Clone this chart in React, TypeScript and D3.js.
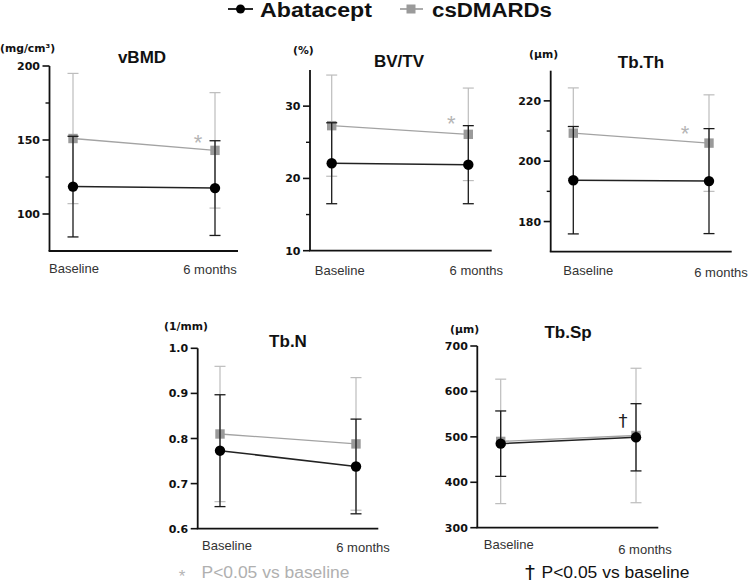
import React from "react";
import * as d3 from "d3";

const timepoints = ["Baseline", "6 months"];
const panelTitles = ["vBMD", "BV/TV", "Tb.Th", "Tb.N", "Tb.Sp"];
const panelUnits = ["(mg/cm³)", "(%)", "(µm)", "(1/mm)", "(µm)"];
const seriesNames = ["Abatacept", "csDMARDs"];

const abataceptMean = [[118.5, 117.5], [22.1, 21.9], [193.7, 193.4], [0.773, 0.738], [485, 499]];
const abataceptSD = [[34, 32], [5.6, 5.4], [17.8, 17.4], [0.124, 0.105], [72, 74]];
const csdmardsMean = [[151, 143], [27.3, 26.1], [209.3, 206], [0.81, 0.788], [490, 503]];
const csdmardsSD = [[44, 39], [7.0, 6.4], [15, 16], [0.15, 0.147], [137, 148]];

const yDomains = [[75, 200], [10, 35], [170, 230], [0.6, 1.0], [300, 700]];
const majorTicks = [[100, 150, 200], [10, 20, 30], [180, 200, 220], [0.6, 0.7, 0.8, 0.9, 1.0], [300, 400, 500, 600, 700]];
const minorTicks = [[125, 175], [15, 25], [190, 210], [], []];
const tickFormats = ["d", "d", "d", ".1f", "d"];
const asteriskPanels = [0, 1, 2];
const daggerPanels = [4];

// layout (pixel geometry)
const layout = [
  { ax: 49.5, top: 66, bottom: 251, right: 238, px: [73, 215], lx: [1, -5], ly: [273, 273.5], tx: 142, ty: 63, ux: 0, uy: 52, sx: -17, sy: -12 },
  { ax: 310, top: 70, bottom: 250.7, right: 491.7, px: [331.7, 468.3], lx: [8, 8], ly: [275, 275], tx: 399, ty: 66.5, ux: 293, uy: 54, sx: -17, sy: -15 },
  { ax: 550.7, top: 70.7, bottom: 251.7, right: 731.7, px: [573.3, 709], lx: [15, 12], ly: [275, 276.5], tx: 641, ty: 68, ux: 529, uy: 58, sx: -24, sy: -14 },
  { ax: 197.7, top: 348.3, bottom: 528.7, right: 378.3, px: [220, 356], lx: [7, 7], ly: [549.5, 551.5], tx: 288, ty: 347, ux: 164, uy: 330, sx: 0, sy: 0 },
  { ax: 477.3, top: 346, bottom: 527.7, right: 658.3, px: [500.7, 636], lx: [8, 9], ly: [549, 554], tx: 568, ty: 338, ux: 450, uy: 333, sx: -13, sy: -10 },
];

const ARIAL = "'Liberation Sans', Arial, sans-serif";
const DEJAVU = "'DejaVu Sans', sans-serif";

const GRAY_LINE = "#a3a3a3";
const GRAY_ERR = "#bdbdbd";
const GRAY_MARK = "#9a9a9a";
const BLACK = "#111";

function Series({ means, sds, x, y, kind }: any) {
  const pts = timepoints.map((t, i) => ({ x: x(t) as number, m: means[i], sd: sds[i] }));
  const line = d3.line<any>().x((d) => d.x).y((d) => y(d.m));
  const isBlack = kind === "black";
  const errColor = isBlack ? "#1a1a1a" : GRAY_ERR;
  const cap = 5.5;
  return (
    <g>
      {pts.map((p, i) => (
        <g key={"e" + i} stroke={errColor} strokeWidth={isBlack ? 1.3 : 1.2}>
          <line x1={p.x} x2={p.x} y1={y(p.m - p.sd)} y2={y(p.m + p.sd)} />
          <line x1={p.x - cap} x2={p.x + cap} y1={y(p.m - p.sd)} y2={y(p.m - p.sd)} />
          <line x1={p.x - cap} x2={p.x + cap} y1={y(p.m + p.sd)} y2={y(p.m + p.sd)} />
        </g>
      ))}
      <path d={line(pts) || ""} fill="none" stroke={isBlack ? "#222" : GRAY_LINE} strokeWidth={isBlack ? 1.5 : 1.3} />
      {pts.map((p, i) =>
        isBlack ? (
          <circle key={"m" + i} cx={p.x} cy={y(p.m)} r={5.2} fill="#000" />
        ) : (
          <rect key={"m" + i} x={p.x - 4.7} y={y(p.m) - 4.7} width={9.4} height={9.4} fill={GRAY_MARK} />
        )
      )}
    </g>
  );
}

function Panel({ idx }: { idx: number }) {
  const L = layout[idx];
  const y = d3.scaleLinear().domain(yDomains[idx]).range([L.bottom, L.top]);
  const x = d3.scalePoint<string>().domain(timepoints).range(L.px as [number, number]);
  const fmt = d3.format(tickFormats[idx]);
  return (
    <g>
      <text x={L.tx} y={L.ty} textAnchor="middle" fontFamily={ARIAL} fontWeight="bold" fontSize={17} fill="#111">
        {panelTitles[idx]}
      </text>
      <text x={L.ux} y={L.uy} fontFamily={DEJAVU} fontWeight="bold" fontSize={10.8} fill="#111">
        {panelUnits[idx]}
      </text>
      <line x1={L.ax} x2={L.ax} y1={L.top} y2={L.bottom} stroke={BLACK} strokeWidth={1.8} />
      <line x1={L.ax - 0.9} x2={L.right} y1={L.bottom} y2={L.bottom} stroke={BLACK} strokeWidth={1.8} />
      {majorTicks[idx].map((t) => (
        <g key={"t" + t}>
          <line x1={L.ax - 7} x2={L.ax} y1={y(t)} y2={y(t)} stroke={BLACK} strokeWidth={1.6} />
          <text x={L.ax - 9.5} y={y(t)} dy="0.37em" textAnchor="end" fontFamily={DEJAVU} fontWeight="bold" fontSize={11} fill="#111">
            {fmt(t)}
          </text>
        </g>
      ))}
      {minorTicks[idx].map((t) => (
        <line key={"mt" + t} x1={L.ax - 4} x2={L.ax} y1={y(t)} y2={y(t)} stroke={BLACK} strokeWidth={1.4} />
      ))}
      {timepoints.map((t, i) => (
        <text key={t} x={(x(t) as number) + L.lx[i]} y={L.ly[i]} textAnchor="middle" fontFamily={ARIAL} fontSize={13} fill="#333">
          {t}
        </text>
      ))}
      <Series means={csdmardsMean[idx]} sds={csdmardsSD[idx]} x={x} y={y} kind="gray" />
      <Series means={abataceptMean[idx]} sds={abataceptSD[idx]} x={x} y={y} kind="black" />
      {asteriskPanels.includes(idx) && (
        <text x={(x(timepoints[1]) as number) + L.sx} y={y(csdmardsMean[idx][1]) + L.sy + 12} textAnchor="middle" fontFamily={ARIAL} fontSize={22} fill="#b5b5b5">
          *
        </text>
      )}
      {daggerPanels.includes(idx) && (
        <text x={(x(timepoints[1]) as number) + L.sx} y={y(abataceptMean[idx][1]) + L.sy} textAnchor="middle" fontFamily={DEJAVU} fontSize={18} fill="#222">
          †
        </text>
      )}
    </g>
  );
}

export default function App() {
  return (
    <svg width={749} height={585} style={{ position: "absolute", left: 0, top: 0, background: "#fff" }}>
      <rect x={0} y={0} width={749} height={585} fill="#fff" />
      <g>
        <line x1={228} x2={253} y1={9} y2={9} stroke="#111" strokeWidth={1.8} />
        <circle cx={240.5} cy={9} r={4.5} fill="#000" />
        <text x={260} y={17} fontFamily={ARIAL} fontWeight="bold" fontSize={20} textLength={112} lengthAdjust="spacingAndGlyphs" fill="#111">
          {seriesNames[0]}
        </text>
        <line x1={400} x2={423} y1={9} y2={9} stroke={GRAY_LINE} strokeWidth={1.8} />
        <rect x={406.5} y={4.5} width={9} height={9} fill={GRAY_MARK} />
        <text x={432} y={17} fontFamily={ARIAL} fontWeight="bold" fontSize={20} textLength={120} lengthAdjust="spacingAndGlyphs" fill="#111">
          {seriesNames[1]}
        </text>
      </g>
      {panelTitles.map((_, i) => (
        <Panel key={i} idx={i} />
      ))}
      <text x={182} y={582} textAnchor="middle" fontFamily={ARIAL} fontSize={17} fill="#b5b5b5">
        *
      </text>
      <text x={201.5} y={577.5} fontFamily={ARIAL} fontSize={15.8} textLength={148} lengthAdjust="spacingAndGlyphs" fill="#b0b0b0">
        P&lt;0.05 vs baseline
      </text>
      <text x={530} y={579} textAnchor="middle" fontFamily={DEJAVU} fontSize={20} fill="#111">
        †
      </text>
      <text x={541.5} y={577.5} fontFamily={ARIAL} fontSize={15.8} textLength={148} lengthAdjust="spacingAndGlyphs" fill="#111">
        P&lt;0.05 vs baseline
      </text>
    </svg>
  );
}
